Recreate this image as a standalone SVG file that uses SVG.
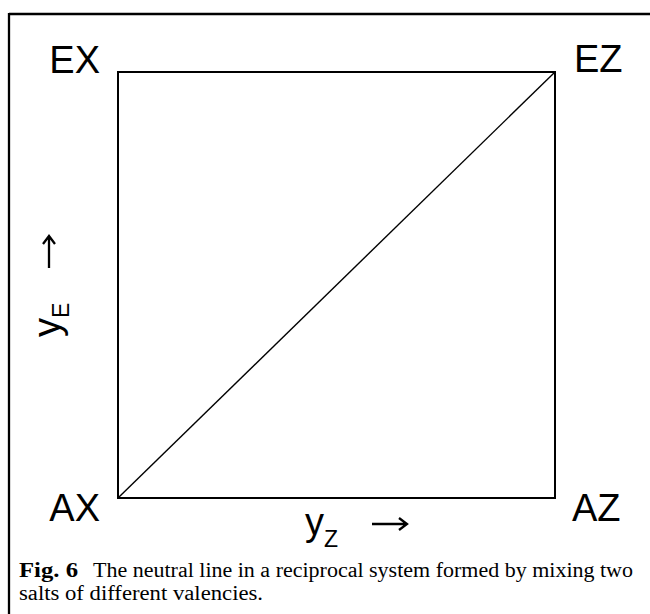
<svg xmlns="http://www.w3.org/2000/svg" width="650" height="614" viewBox="0 0 650 614">
<style>
.lbl{font-family:"Liberation Sans",Arial,sans-serif;font-size:38px;fill:#000}
.sub{font-family:"Liberation Sans",Arial,sans-serif;font-size:23px;fill:#000}
.cap{font-family:"Liberation Serif","Times New Roman",serif;font-size:20px;fill:#000}
.ln{stroke:#000;fill:none}
</style>
<rect width="650" height="614" fill="#fff"/>
<g id="frame">
<line class="ln" x1="9" y1="14" x2="650" y2="14" stroke-width="2.3"/>
<line class="ln" x1="9" y1="13" x2="9" y2="614" stroke-width="2.3"/>
</g>
<g id="square">
<rect class="ln" x="118" y="72" width="437" height="426" stroke-width="2"/>
</g>
<g id="connectors">
<line class="ln" x1="118" y1="498" x2="555" y2="72" stroke-width="1.4"/>
</g>
<g id="EX"><text class="lbl" x="100" y="73" text-anchor="end">EX</text></g>
<g id="EZ"><text class="lbl" x="574" y="72">EZ</text></g>
<g id="AX"><text class="lbl" x="100" y="521" text-anchor="end">AX</text></g>
<g id="AZ"><text class="lbl" x="572" y="521">AZ</text></g>
<g id="yE">
<g transform="translate(60,337) rotate(-90)">
<text class="lbl" x="0" y="0">y<tspan class="sub" dy="9">E</tspan></text>
</g>
<path class="ln" d="M49 268 V236 M43 244 L49 236 L55 244" stroke-width="2.3"/>
</g>
<g id="yZ">
<text class="lbl" x="305" y="535">y<tspan class="sub" dy="12">Z</tspan></text>
<path class="ln" d="M372 524 H407 M399 518 L407 524 L399 530" stroke-width="2.3"/>
</g>
<g id="caption">
<text class="cap" x="19" y="577" font-weight="bold" textLength="59" lengthAdjust="spacingAndGlyphs">Fig. 6</text>
<text class="cap" x="93" y="577" textLength="540" lengthAdjust="spacingAndGlyphs">The neutral line in a reciprocal system formed by mixing two</text>
<text class="cap" x="19" y="600" textLength="244" lengthAdjust="spacingAndGlyphs">salts of different valencies.</text>
</g>
</svg>
